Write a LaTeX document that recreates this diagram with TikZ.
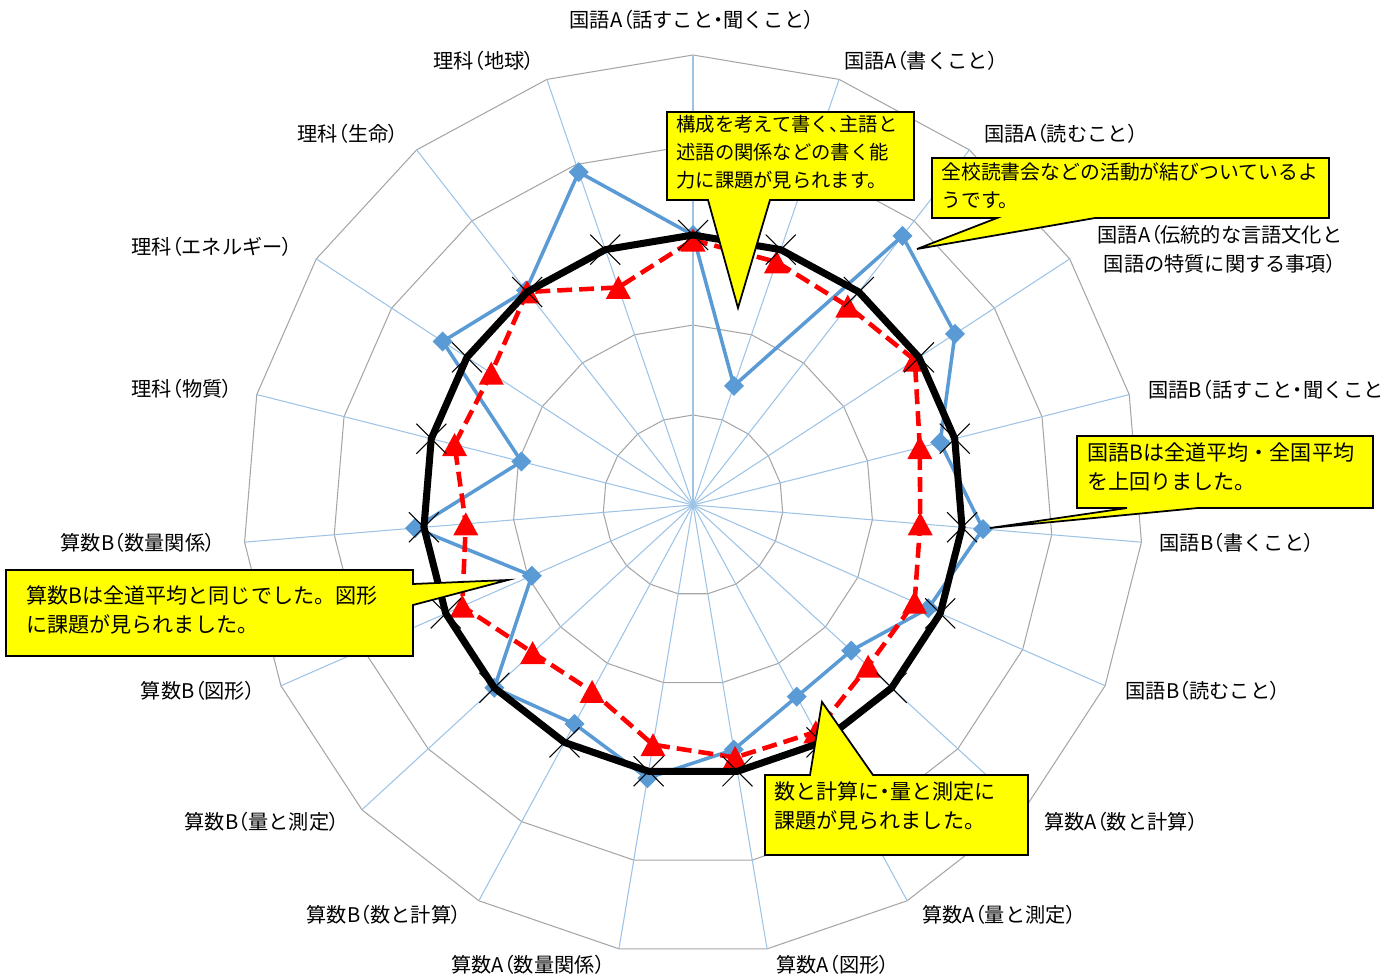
\documentclass[tikz,border=0pt]{standalone}
\usepackage{fontspec}
\setmainfont{Noto Sans CJK JP}
\newfontfamily\pfont[RawFeature=+palt]{Noto Sans CJK JP}
\newcommand{\jlp}{{\pfont （}}
\newcommand{\jrp}{{\pfont ）}}
\newcommand{\jdot}{{\pfont ・}}
\newcommand{\jcomma}{{\pfont 、}}

\definecolor{gridgray}{HTML}{A6A6A6}
\definecolor{spokeblue}{HTML}{9DC3E6}
\definecolor{seriesblue}{HTML}{5B9BD5}
\definecolor{notefill}{HTML}{FFFF00}

\tikzset{
  ring/.style={draw=gridgray, line width=0.6pt},
  spoke/.style={draw=spokeblue, line width=0.6pt},
  blueline/.style={draw=seriesblue, line width=2pt, line join=round},
  redline/.style={draw=red, line width=2.6pt, dash pattern=on 8.5pt off 4pt},
  blackline/.style={draw=black, line width=4pt, line join=round},
  axislabel/.style={inner sep=0pt, font=\fontsize{11.5}{16.5}\selectfont},
  note/.style={fill=notefill, draw=black, line width=1pt},
  notetext/.style={anchor=west, align=left, inner sep=0pt},
  bignote/.style={notetext, font=\fontsize{12}{17}\selectfont},
}

\begin{document}
\begin{tikzpicture}[x=0.02cm, y=-0.02cm, font=\fontsize{11}{15.9}\selectfont]
\useasboundingbox (0,0) rectangle (1400,980);

% radar chart, 19 axes
\begin{scope}[shift={(693,505)}, yscale=-1]
  \coordinate (c) at (0,0);
  \foreach \i in {0,...,18}
    \coordinate (s\i) at ({90-\i*360/19}:450);
  \foreach \r in {90,180,270,360,450}
    \draw[ring] (90:\r) \foreach \i in {1,...,18} { -- ({90-\i*360/19}:\r) } -- cycle;
  \foreach \i in {0,...,18}
    \draw[spoke] (c) -- (s\i);

  % school
  \foreach \r [count=\i from 0] in {270,126,341,313,255,291,257,215,218,248,277,249,270,176,279,177,299,272,352}
    \coordinate (b\i) at ({90-\i*360/19}:\r);
  \draw[blueline] (b0) \foreach \i in {1,...,18} { -- (b\i) } -- cycle;
  \foreach \i in {0,...,18}
    \fill[seriesblue] (b\i) +(0,10) -- +(10,0) -- +(0,-10) -- +(-10,0) -- cycle;

  % Hokkaido
  \foreach \r [count=\i from 0] in {265,257,252,265,234,228,242,238,258,256,243,212,218,252,228,246,241,270,230}
    \coordinate (r\i) at ({90-\i*360/19}:\r);
  \draw[redline] (r0) \foreach \i in {1,...,18} { -- (r\i) } -- cycle;
  \foreach \i in {0,...,18}
    \fill[red] (r\i) +(0,11.5) -- +(12.5,-11.5) -- +(-12.5,-11.5) -- cycle;

  % national
  \foreach \i in {0,...,18}
    \coordinate (k\i) at ({90-\i*360/19}:270);
  \draw[blackline] (k0) \foreach \i in {1,...,18} { -- (k\i) } -- cycle;
  \foreach \i in {0,...,18}
    \draw[line width=0.6pt] (k\i) +(-15,-15) -- +(15,15) +(-15,15) -- +(15,-15);
\end{scope}

% axis labels
\node[axislabel] (l0) at (692,20) {国語A\jlp 話すこと\jdot 聞くこと\jrp};
\node[axislabel] (l1) at (921,61) {国語A\jlp 書くこと\jrp};
\node[axislabel] (l2) at (1061,134) {国語A\jlp 読むこと\jrp};
\node[axislabel, align=center] (l3) at (1220,249) {国語A\jlp 伝統的な言語文化と\\国語の特質に関する事項\jrp};
\node[axislabel, anchor=west] (l4) at (1148,390) {国語B\jlp 話すこと\jdot 聞くこと};
\node[axislabel] (l5) at (1237,543) {国語B\jlp 書くこと\jrp};
\node[axislabel] (l6) at (1203,691) {国語B\jlp 読むこと\jrp};
\node[axislabel] (l7) at (1121,822) {算数A\jlp 数と計算\jrp};
\node[axislabel] (l8) at (999,915) {算数A\jlp 量と測定\jrp};
\node[axislabel] (l9) at (833,965) {算数A\jlp 図形\jrp};
\node[axislabel] (l10) at (528,965) {算数A\jlp 数量関係\jrp};
\node[axislabel] (l11) at (384,915) {算数B\jlp 数と計算\jrp};
\node[axislabel] (l12) at (262,822) {算数B\jlp 量と測定\jrp};
\node[axislabel] (l13) at (198,691) {算数B\jlp 図形\jrp};
\node[axislabel] (l14) at (138,543) {算数B\jlp 数量関係\jrp};
\node[axislabel] (l15) at (182,389) {理科\jlp 物質\jrp};
\node[axislabel] (l16) at (212,247) {理科\jlp エネルギー\jrp};
\node[axislabel] (l17) at (348,134) {理科\jlp 生命\jrp};
\node[axislabel] (l18) at (484,61) {理科\jlp 地球\jrp};

% callouts
\coordinate (t1) at (738,308);
\draw[note] (667,112) -- (914,112) -- (914,200) -- (770,200) -- (t1) -- (708,200) -- (667,200) -- cycle;
\node[notetext] (n1) at (676,152) {構成を考えて書く\jcomma 主語と\\述語の関係などの書く能\\力に課題が見られます。};

\coordinate (t2) at (917,249);
\draw[note] (932,158) -- (1329,158) -- (1329,218) -- (1095,218) -- (t2) -- (997,218) -- (932,218) -- cycle;
\node[notetext, font=\fontsize{11.3}{15.9}\selectfont] (n2) at (941,186) {全校読書会などの活動が結びついているよ\\うです。};

\coordinate (t3) at (990,528);
\draw[note] (1077,436) -- (1373,436) -- (1373,508) -- (1198,508) -- (t3) -- (1127,508) -- (1077,508) -- cycle;
\node[bignote] (n3) at (1087,467) {国語Bは全道平均・全国平均\\を上回りました。};

\coordinate (t4) at (508,580);
\draw[note] (6,570) -- (413,570) -- (413,584) -- (t4) -- (413,605) -- (413,656) -- (6,656) -- cycle;
\node[bignote] (n4) at (26,610) {算数Bは全道平均と同じでした。図形\\に課題が見られました。};

\coordinate (t5) at (822,702);
\draw[note] (765,775) -- (810,775) -- (t5) -- (873,775) -- (1028,775) -- (1028,855) -- (765,855) -- cycle;
\node[bignote] (n5) at (774,806) {数と計算に\jdot 量と測定に\\課題が見られました。};
\end{tikzpicture}
\end{document}
